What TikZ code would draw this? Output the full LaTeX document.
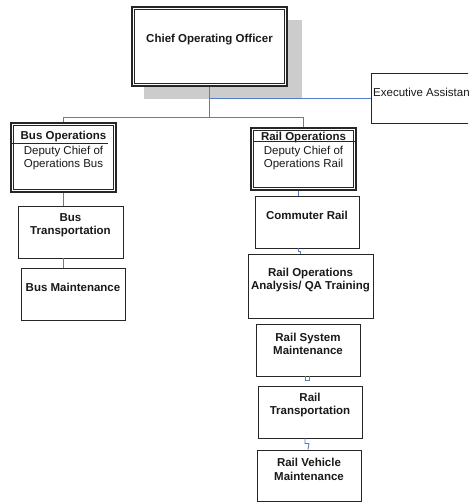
\documentclass[tikz,border=0pt]{standalone}
\usepackage{fontspec}
\setmainfont{Liberation Sans}
\definecolor{linkblue}{RGB}{85,125,205}
\definecolor{shadowgray}{RGB}{204,204,204}
\begin{document}
\begin{tikzpicture}[x=1pt,y=-1pt,
  box/.style={draw=black!85,line width=0.9pt,fill=white,inner sep=0pt},
  dbox/.style={draw=black!85,line width=1.2pt,fill=white,inner sep=0pt},
  inner/.style={draw=black!85,line width=0.8pt},
  txt/.style={font=\fontsize{11.5}{13.5}\selectfont\bfseries,align=center,inner sep=0pt,text=black!90},
  rtxt/.style={font=\fontsize{11.5}{13.5}\selectfont,align=center,inner sep=0pt,text=black!90},
  conn/.style={draw=linkblue,line width=0.85pt}]
\useasboundingbox (0,0) rectangle (468,502);
\clip (0,0) rectangle (468,502);

% CEO with shadow
\fill[shadowgray] (144,20) rectangle (302,99);
\node[dbox,minimum width=155,minimum height=79] (ceo) at (209.5,46.5) {};
\draw[inner] ([shift={(3,3)}]ceo.north west) rectangle ([shift={(-3,-3)}]ceo.south east);
\node[txt] (ceotxt) at (209.5,40) {Chief Operating Officer};

% Executive assistant
\node[box,minimum width=119,minimum height=50] (exec) at (430.5,98) {};
\node[rtxt,anchor=west] (exectxt) at (373,92) {Executive Assistant};

% Bus operations
\node[dbox,minimum width=105,minimum height=69] (busops) at (63.5,157.5) {};
\draw[inner] ([shift={(3,3)}]busops.north west) rectangle ([shift={(-3,-3)}]busops.south east);
\node[txt] (busopstitle) at (63.5,137) {Bus Operations};
\draw[line width=0.8pt,black!85] (12,143.5) -- (108,143.5);
\node[rtxt] (busopstxt) at (63.5,158) {Deputy Chief of\\Operations Bus};

% Rail operations
\node[dbox,minimum width=105,minimum height=62] (railops) at (303.5,159) {};
\draw[inner] ([shift={(3,3)}]railops.north west) rectangle ([shift={(-3,-3)}]railops.south east);
\node[txt] (railopstitle) at (303.5,138) {Rail Operations};
\draw[line width=0.8pt,black!85] (254,141.5) -- (355,141.5);
\node[rtxt] (railopstxt) at (303.5,158) {Deputy Chief of\\Operations Rail};

% Bus units
\node[box,minimum width=105,minimum height=52] (bustrans) at (70.5,232) {};
\node[txt] (bustranstxt) at (70.5,225) {Bus\\Transportation};
\node[box,minimum width=104,minimum height=52] (busmaint) at (73,294) {};
\node[txt] (busmainttxt) at (73,287) {Bus Maintenance};

% Rail units
\node[box,minimum width=104,minimum height=52] (commuter) at (307,222) {};
\node[txt] (commutertxt) at (307,215) {Commuter Rail};
\node[box,minimum width=125,minimum height=64] (analysis) at (310.5,286) {};
\node[txt] (analysistxt) at (310.5,280) {Rail Operations\\Analysis/ QA Training};
\node[box,minimum width=104,minimum height=52] (rsm) at (308,350) {};
\node[txt] (rsmtxt) at (308,344) {Rail System\\Maintenance};
\node[box,minimum width=104,minimum height=52] (rt) at (310,412) {};
\node[txt] (rttxt) at (310,405) {Rail\\Transportation};
\node[box,minimum width=104,minimum height=51] (rvm) at (309,475.5) {};
\node[txt] (rvmtxt) at (309,469.5) {Rail Vehicle\\Maintenance};

% Connectors
\draw[conn] (ceo.south) -- (ceo.south |- 0,118);
\draw[conn] (ceo.south |- exec.west) -- (exec.west);
\draw[conn] (busops.north) -- ++(0,-5) -| (railops.north);
\draw[conn] (busops.south) -- (busops.south |- bustrans.north);
\draw[conn] (busops.south |- bustrans.south) -- (busops.south |- busmaint.north);
\draw[conn] ([xshift=-5.5]railops.south) -- ([xshift=-5.5]railops.south |- commuter.north);
\draw[conn] ([xshift=-9]commuter.south) -- ++(0,3) -- ++(2,0) |- ([xshift=-10.5]analysis.north);
\draw[conn] ([xshift=-3]rsm.south) -- ++(0,4) -- ++(4,0) -- (rsm.south -| 309,0 |- rt.north);
\draw[conn] ([xshift=-5]rt.south) -- ++(0,5) -- ++(4,0) -- ([xshift=-1]rvm.north);
\end{tikzpicture}
\end{document}
